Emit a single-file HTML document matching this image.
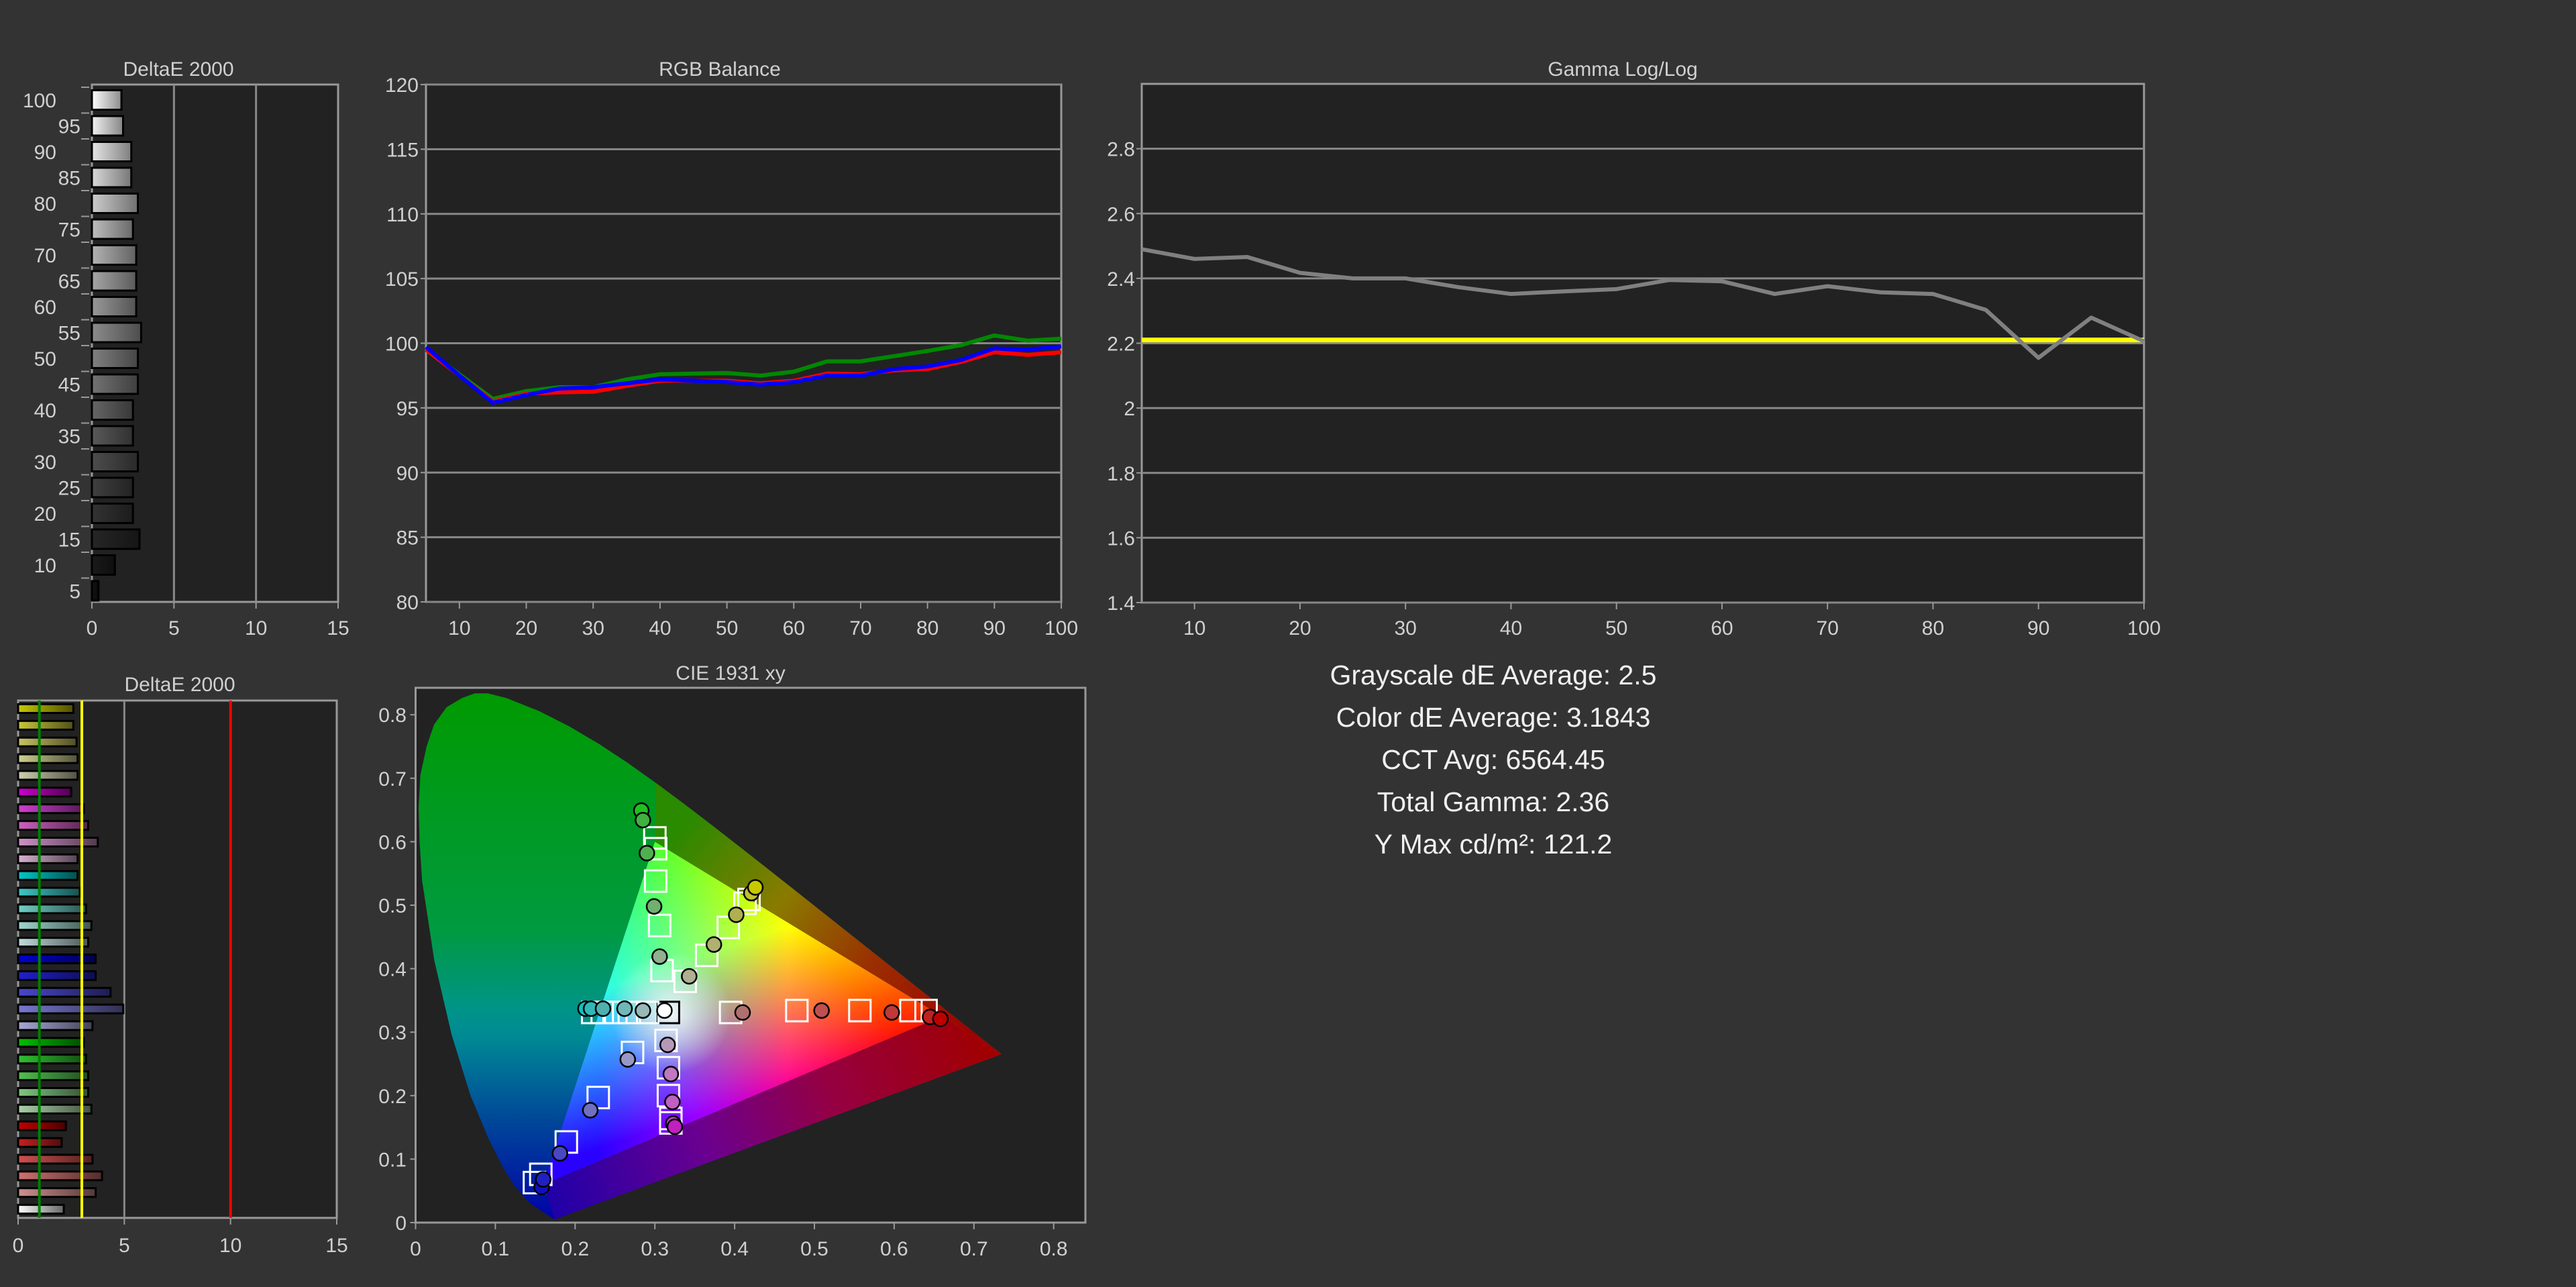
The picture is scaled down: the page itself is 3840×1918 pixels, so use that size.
<!DOCTYPE html>
<html><head><meta charset="utf-8"><style>
html,body{margin:0;padding:0;background:#333333;}
svg{display:block;}
text{font-family:"Liberation Sans",sans-serif;fill:#d0d0d0;}
</style></head><body>
<svg id="s" width="3840" height="1918" viewBox="0 0 3840 1918" xmlns="http://www.w3.org/2000/svg">
<rect width="3840" height="1918" fill="#333333"/>
<defs id="defs"></defs>
<text x="2226" y="1020" font-size="41" text-anchor="middle" style="fill:#f0f0f0">Grayscale dE Average: 2.5</text>
<text x="2226" y="1083" font-size="41" text-anchor="middle" style="fill:#f0f0f0">Color dE Average: 3.1843</text>
<text x="2226" y="1146" font-size="41" text-anchor="middle" style="fill:#f0f0f0">CCT Avg: 6564.45</text>
<text x="2226" y="1209" font-size="41" text-anchor="middle" style="fill:#f0f0f0">Total Gamma: 2.36</text>
<text x="2226" y="1272" font-size="41" text-anchor="middle" style="fill:#f0f0f0">Y Max cd/m²: 121.2</text>
</svg>
<script>
// ---------- data ----------
const grayLevels = [100,95,90,85,80,75,70,65,60,55,50,45,40,35,30,25,20,15,10,5];
const grayDE = [1.8,1.9,2.4,2.4,2.8,2.5,2.7,2.7,2.7,3.0,2.8,2.8,2.5,2.5,2.8,2.5,2.5,2.9,1.4,0.4];
const deTicks = [0,5,10,15];
const colorDE = [2.6,2.6,2.75,2.8,2.8, 2.5,3.1,3.3,3.75,2.8, 2.8,2.9,3.2,3.45,3.3, 3.65,3.65,4.35,4.95,3.5, 3.1,3.2,3.3,3.3,3.45, 2.25,2.05,3.5,3.95,3.65, 2.15];
const colorSwatches = ['#c8c800','#c8c83c','#c8c464','#d0d090','#d0d0b0','#cc00cc','#d040d0','#d060c0','#d090c8','#d8b0d0','#00c8c8','#40c8c8','#70d0c8','#a0d8d0','#c0dcdc','#0000cc','#2020cc','#4848cc','#7878d0','#a8a8d8','#00c000','#30c030','#50c050','#80c880','#a8d0a8','#c00000','#c82020','#d05050','#d07070','#d09090','#ffffff'];
const rgbX = [5,10,15,20,25,30,35,40,45,50,55,60,65,70,75,80,85,90,95,100];
const rgbRed = [99.5,97.5,95.5,96.1,96.2,96.25,96.7,97.1,97.1,97.1,96.9,97.1,97.65,97.6,97.9,98.0,98.55,99.3,99.1,99.3];
const rgbGreen = [99.5,97.6,95.7,96.3,96.6,96.6,97.2,97.6,97.65,97.7,97.5,97.8,98.6,98.6,99.0,99.4,99.85,100.6,100.2,100.35];
const rgbBlue = [99.7,97.5,95.4,96.0,96.5,96.6,96.9,97.2,97.1,97.0,96.8,97.0,97.5,97.5,98.0,98.2,98.7,99.6,99.5,99.75];
const rgbYTicks = [80,85,90,95,100,105,110,115,120];
const xTicks = [10,20,30,40,50,60,70,80,90,100];
const gammaVals = [2.49,2.46,2.466,2.417,2.40,2.40,2.373,2.352,2.36,2.367,2.395,2.391,2.352,2.376,2.357,2.352,2.303,2.155,2.279,2.206];
const gammaTarget = 2.21;
const gammaYTicks = [1.4,1.6,1.8,2,2.2,2.4,2.6,2.8];
const cieTicks = [0,0.1,0.2,0.3,0.4,0.5,0.6,0.7,0.8];
const locusX = [0.1741,0.1440,0.1241,0.1096,0.0913,0.0687,0.0454,0.0235,0.0082,0.0050,0.0039,0.0060,0.0139,0.0231,0.0389,0.0581,0.0743,0.0906,0.1142,0.1547,0.1929,0.2296,0.2658,0.3016,0.3373,0.3731,0.4087,0.4441,0.4788,0.5125,0.5448,0.5752,0.6029,0.6270,0.6482,0.6658,0.6915,0.7190,0.7347];
const locusY = [0.0050,0.0297,0.0578,0.0868,0.1327,0.2007,0.2950,0.4127,0.5384,0.6000,0.6548,0.7050,0.7502,0.7844,0.8120,0.8263,0.8338,0.8338,0.8262,0.8059,0.7816,0.7543,0.7243,0.6923,0.6589,0.6245,0.5896,0.5547,0.5202,0.4866,0.4544,0.4242,0.3965,0.3725,0.3514,0.3340,0.3083,0.2809,0.2653];
const targetX = [0.317, 0.395,0.478,0.557,0.621,0.640, 0.300,0.301,0.301,0.306,0.309, 0.149,0.157,0.189,0.229,0.272, 0.338,0.365,0.392,0.413,0.418, 0.222,0.234,0.251,0.268,0.291, 0.314,0.317,0.317,0.320,0.320];
const targetY = [0.331, 0.331,0.334,0.334,0.334,0.334, 0.606,0.589,0.538,0.468,0.397, 0.063,0.076,0.127,0.197,0.268, 0.380,0.421,0.465,0.503,0.509, 0.331,0.331,0.331,0.331,0.331, 0.287,0.244,0.200,0.164,0.157];
const measX = [0.312, 0.410,0.509,0.597,0.645,0.658, 0.283,0.285,0.290,0.299,0.306, 0.158,0.160,0.181,0.219,0.266, 0.343,0.374,0.402,0.421,0.426, 0.213,0.220,0.235,0.262,0.285, 0.316,0.320,0.322,0.323,0.325];
const measY = [0.334, 0.331,0.334,0.331,0.324,0.321, 0.649,0.634,0.582,0.498,0.419, 0.056,0.068,0.109,0.177,0.257, 0.388,0.438,0.485,0.519,0.528, 0.337,0.337,0.337,0.337,0.334, 0.280,0.234,0.190,0.156,0.151];
const measColors = ['#ffffff', '#b07070','#c05050','#c03838','#c02020','#c00000', '#20c020','#40b040','#50b050','#70b070','#90b090', '#1010c0','#2020c0','#4848c0','#7070c0','#9898c8', '#b0b090','#b0b070','#b0b050','#c0c030','#c8c800', '#10c0c0','#30b8b8','#50b0b0','#70b8b8','#98b8b8', '#b898b8','#c078c0','#c060c0','#c040c0','#c020c0'];

// ---------- helpers ----------
const NS = 'http://www.w3.org/2000/svg';
const svg = document.getElementById('s');
const defs = document.getElementById('defs');
function mk(tag, attrs, parent) {
  const e = document.createElementNS(NS, tag);
  for (const k in attrs) e.setAttribute(k, attrs[k]);
  (parent || svg).appendChild(e);
  return e;
}
function txt(str, x, y, size, anchor, parent) {
  const t = mk('text', {x: x, y: y, 'font-size': size, 'text-anchor': anchor || 'middle'}, parent);
  t.textContent = str;
  return t;
}
function darken(hex, f) {
  const n = parseInt(hex.slice(1), 16);
  const r = Math.round(((n >> 16) & 255) * f), g = Math.round(((n >> 8) & 255) * f), b = Math.round((n & 255) * f);
  return 'rgb(' + r + ',' + g + ',' + b + ')';
}
function hgrad(id, c1, c2) {
  const g = mk('linearGradient', {id: id, x1: 0, y1: 0, x2: 1, y2: 0}, defs);
  mk('stop', {offset: 0, 'stop-color': c1}, g);
  mk('stop', {offset: 1, 'stop-color': c2}, g);
}

// ---------- top DeltaE (grayscale) ----------
(function () {
  const g = mk('g', {});
  
  
  const x0 = 137, x1 = 504, y0 = 126, y1 = 897;
  const xs = v => x0 + v * (x1 - x0) / 15;
  mk('rect', {x: x0, y: y0, width: x1 - x0, height: y1 - y0, fill: '#222222', stroke: '#999', 'stroke-width': 3}, g);
  [5, 10].forEach(v => mk('line', {x1: xs(v), x2: xs(v), y1: y0, y2: y1, stroke: '#888', 'stroke-width': 3}, g));
  const t = txt('DeltaE 2000', 266, 113, 30, 'middle', g);
  
  
  const step = 38.5, top = 149;
  grayLevels.forEach((lv, i) => {
    const cy = top + i * step;
    const L = Math.round(255 * Math.max(lv, 8) / 100);
    const hex = '#' + [L, L, L].map(v => v.toString(16).padStart(2, '0')).join('');
    hgrad('gg' + i, hex, darken(hex, 0.55));
    const b = mk('rect', {x: x0, y: cy - 14.5, width: xs(grayDE[i]) - x0, height: 29, fill: 'url(#gg' + i + ')', stroke: '#000', 'stroke-width': 3}, g);
    
    
    const lx = (i % 2 === 0) ? 84 : 120;
    txt(String(lv), lx, cy + 11, 30, 'end', g);
    mk('line', {x1: 121, x2: 133, y1: cy - 19, y2: cy - 19, stroke: '#999', 'stroke-width': 2}, g);
  });
  deTicks.forEach(v => {
    mk('line', {x1: xs(v), x2: xs(v), y1: y1, y2: y1 + 10, stroke: '#999', 'stroke-width': 2}, g);
    txt(String(v), xs(v), 946, 30, 'middle', g);
  });
})();

// ---------- bottom DeltaE (colors) ----------
(function () {
  const g = mk('g', {});
  
  
  const x0 = 27, x1 = 502, y0 = 1044, y1 = 1815;
  const xs = v => x0 + v * (x1 - x0) / 15;
  mk('rect', {x: x0, y: y0, width: x1 - x0, height: y1 - y0, fill: '#222222', stroke: '#999', 'stroke-width': 3}, g);
  mk('line', {x1: xs(5), x2: xs(5), y1: y0, y2: y1, stroke: '#888', 'stroke-width': 3}, g);
  const t = txt('DeltaE 2000', 268, 1030, 30, 'middle', g);
  
  
  const step = 24.87, top = 1056;
  colorDE.forEach((v, i) => {
    const cy = top + i * step;
    hgrad('cg' + i, colorSwatches[i], darken(colorSwatches[i], 0.4));
    const b = mk('rect', {x: x0, y: cy - 6.5, width: xs(v) - x0, height: 13, fill: 'url(#cg' + i + ')', stroke: '#000', 'stroke-width': 3}, g);
    
    
  });
  mk('line', {x1: xs(1), x2: xs(1), y1: y0, y2: y1, stroke: '#008000', 'stroke-width': 4}, g);
  mk('line', {x1: xs(3), x2: xs(3), y1: y0, y2: y1, stroke: '#ffff00', 'stroke-width': 4}, g);
  mk('line', {x1: xs(10), x2: xs(10), y1: y0, y2: y1, stroke: '#ff0000', 'stroke-width': 4}, g);
  deTicks.forEach(v => {
    mk('line', {x1: xs(v), x2: xs(v), y1: y1, y2: y1 + 10, stroke: '#999', 'stroke-width': 2}, g);
    txt(String(v), xs(v), 1866, 30, 'middle', g);
  });
})();

// ---------- RGB balance ----------
(function () {
  const g = mk('g', {});
  
  
  const x0 = 635, x1 = 1582, y0 = 126, y1 = 897;
  const xs = v => x0 + (v - 5) * (x1 - x0) / 95;
  const ys = v => y1 - (v - 80) * (y1 - y0) / 40;
  mk('rect', {x: x0, y: y0, width: x1 - x0, height: y1 - y0, fill: '#222222', stroke: '#999', 'stroke-width': 3}, g);
  const t = txt('RGB Balance', 1073, 113, 30, 'middle', g);
  
  
  rgbYTicks.forEach(v => {
    mk('line', {x1: x0, x2: x1, y1: ys(v), y2: ys(v), stroke: '#888', 'stroke-width': 3}, g);
    mk('line', {x1: x0 - 8, x2: x0, y1: ys(v), y2: ys(v), stroke: '#999', 'stroke-width': 2}, g);
    txt(String(v), 624, ys(v) + 11, 30, 'end', g);
  });
  xTicks.forEach(v => {
    mk('line', {x1: xs(v), x2: xs(v), y1: y1, y2: y1 + 10, stroke: '#999', 'stroke-width': 2}, g);
    txt(String(v), xs(v), 946, 30, 'middle', g);
  });
  [['green', rgbGreen, '#008800'], ['red', rgbRed, '#ff0000'], ['blue', rgbBlue, '#0000ff']].forEach(s => {
    const pts = rgbX.map((x, i) => xs(x) + ',' + ys(s[1][i])).join(' ');
    const l = mk('polyline', {points: pts, fill: 'none', stroke: s[2], 'stroke-width': 6, 'stroke-linejoin': 'round'}, g);
    
    
  });
})();

// ---------- Gamma ----------
(function () {
  const g = mk('g', {});
  
  
  const x0 = 1702, x1 = 3196, y0 = 125, y1 = 898;
  const xs = v => x0 + (v - 5) * (x1 - x0) / 95;
  const ys = v => y1 - (v - 1.4) * (y1 - y0) / 1.6;
  mk('rect', {x: x0, y: y0, width: x1 - x0, height: y1 - y0, fill: '#222222', stroke: '#999', 'stroke-width': 3}, g);
  const t = txt('Gamma Log/Log', 2419, 113, 30, 'middle', g);
  
  
  gammaYTicks.forEach(v => {
    mk('line', {x1: x0, x2: x1, y1: ys(v), y2: ys(v), stroke: '#888', 'stroke-width': 3}, g);
    mk('line', {x1: x0 - 8, x2: x0, y1: ys(v), y2: ys(v), stroke: '#999', 'stroke-width': 2}, g);
    txt(String(v), 1692, ys(v) + 11, 30, 'end', g);
  });
  xTicks.forEach(v => {
    mk('line', {x1: xs(v), x2: xs(v), y1: y1, y2: y1 + 10, stroke: '#999', 'stroke-width': 2}, g);
    txt(String(v), xs(v), 946, 30, 'middle', g);
  });
  const tl = mk('line', {x1: x0, x2: x1, y1: ys(gammaTarget), y2: ys(gammaTarget), stroke: '#ffff00', 'stroke-width': 7}, g);
  
  
  const pts = rgbX.map((x, i) => xs(x) + ',' + ys(gammaVals[i])).join(' ');
  const l = mk('polyline', {points: pts, fill: 'none', stroke: '#808080', 'stroke-width': 6, 'stroke-linejoin': 'round'}, g);
  
  
})();

// ---------- CIE 1931 ----------
(function () {
  const g = mk('g', {});
  
  
  const x0 = 619.5, x1 = 1618, y0 = 1025, y1 = 1822;
  const xs = v => x0 + v * 1189;
  const ys = v => y1 - v * 946;
  mk('rect', {x: x0, y: y0, width: x1 - x0, height: y1 - y0, fill: '#222222', stroke: '#999', 'stroke-width': 3}, g);
  const t = txt('CIE 1931 xy', 1089, 1013, 30, 'middle', g);
  
  
  const lg = mk('linearGradient', {id: 'locg', gradientUnits: 'userSpaceOnUse', x1: 0, y1: ys(0.84), x2: 0, y2: ys(0)}, defs);
  [[0, '#009a00'], [0.45, '#009a40'], [0.6, '#009488'], [0.65, '#008a94'], [0.8, '#004a98'], [1, '#0000a8']].forEach(s => mk('stop', {offset: s[0], 'stop-color': s[1]}, lg));
  const locus = locusX.map((x, i) => xs(x) + ',' + ys(locusY[i])).join(' ');
  const lp = mk('polygon', {points: locus, fill: 'url(#locg)'}, g);
  
  
  const G = [0.30, 0.60], R = [0.66, 0.325], B = [0.16, 0.06];
  const last = locusX.length - 1;
  // upper right region (between G-R edge and locus)
  const ug = mk('linearGradient', {id: 'upg', gradientUnits: 'userSpaceOnUse', x1: xs(0.35), y1: ys(0.65), x2: xs(0.70), y2: ys(0.30)}, defs);
  [[0, '#2a8a00'], [0.35, '#8a7a00'], [0.65, '#9a3000'], [1, '#a00000']].forEach(s => mk('stop', {offset: s[0], 'stop-color': s[1]}, ug));
  let up = xs(G[0]) + ',' + ys(G[1]) + ' ';
  locusX.forEach((x, i) => { if (x >= 0.30 && i > 10) up += xs(x) + ',' + ys(locusY[i]) + ' '; });
  up += xs(R[0]) + ',' + ys(R[1]);
  mk('polygon', {points: up, fill: 'url(#upg)'}, g);
  // lower region (between B-R edge and purple line)
  const lo = mk('linearGradient', {id: 'log', gradientUnits: 'userSpaceOnUse', x1: xs(0.17), y1: ys(0.03), x2: xs(0.72), y2: ys(0.28)}, defs);
  [[0, '#2000a8'], [0.35, '#6a0090'], [0.65, '#960040'], [1, '#a00000']].forEach(s => mk('stop', {offset: s[0], 'stop-color': s[1]}, lo));
  const low = [B, R, [locusX[last], locusY[last]], [locusX[0], locusY[0]]].map(p => xs(p[0]) + ',' + ys(p[1])).join(' ');
  mk('polygon', {points: low, fill: 'url(#log)'}, g);
  // bright gamut triangle
  const tri = [G, R, B].map(p => xs(p[0]) + ',' + ys(p[1])).join(' ');
  mk('polygon', {points: tri, fill: '#000'}, g);
  const verts = [[G, '#00ff00'], [R, '#ff0000'], [B, '#2a00ff']];
  verts.forEach((v, k) => {
    const o = verts.filter((_, j) => j !== k).map(q => q[0]);
    const mx = (o[0][0] + o[1][0]) / 2, my = (o[0][1] + o[1][1]) / 2;
    const gr = mk('linearGradient', {id: 'tv' + k, gradientUnits: 'userSpaceOnUse', x1: xs(v[0][0]), y1: ys(v[0][1]), x2: xs(mx), y2: ys(my)}, defs);
    mk('stop', {offset: 0.45, 'stop-color': v[1], 'stop-opacity': 1}, gr);
    mk('stop', {offset: 1, 'stop-color': v[1], 'stop-opacity': 0}, gr);
    mk('polygon', {points: tri, fill: 'url(#tv' + k + ')', style: 'mix-blend-mode:screen'}, g);
  });
  const wg = mk('radialGradient', {id: 'wpg', gradientUnits: 'userSpaceOnUse', cx: xs(0.32), cy: ys(0.33), r: 90}, defs);
  mk('stop', {offset: 0, 'stop-color': '#fff', 'stop-opacity': 0.9}, wg);
  mk('stop', {offset: 1, 'stop-color': '#fff', 'stop-opacity': 0}, wg);
  mk('polygon', {points: tri, fill: 'url(#wpg)'}, g);
  cieTicks.forEach(v => {
    mk('line', {x1: xs(v), x2: xs(v), y1: y1, y2: y1 + 10, stroke: '#999', 'stroke-width': 2}, g);
    txt(String(v), xs(v), 1871, 30, 'middle', g);
    mk('line', {x1: x0 - 8, x2: x0, y1: ys(v), y2: ys(v), stroke: '#999', 'stroke-width': 2}, g);
    txt(String(v), 606, ys(v) + 11, 30, 'end', g);
  });
  targetX.forEach((x, i) => {
    const sq = mk('rect', {x: xs(x) - 16, y: ys(targetY[i]) - 16, width: 32, height: 32, fill: 'none', stroke: i === 0 ? '#000' : '#fff', 'stroke-width': 3}, g);
    
    
  });
  measX.forEach((x, i) => {
    const c = mk('circle', {cx: xs(x), cy: ys(measY[i]), r: 11, fill: measColors[i], stroke: '#000', 'stroke-width': 2.5}, g);
    
    
  });
})();
</script>
</body></html>
